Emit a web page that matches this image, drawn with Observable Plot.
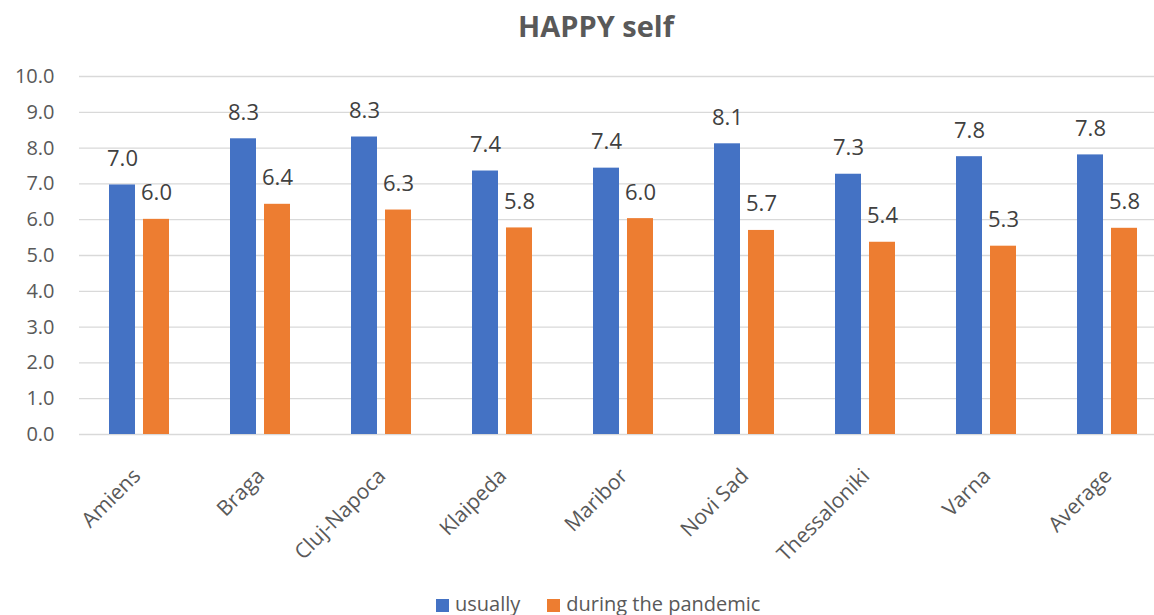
<!DOCTYPE html>
<html><head><meta charset="utf-8">
<script src="https://cdn.jsdelivr.net/npm/d3@7"></script>
<script src="https://cdn.jsdelivr.net/npm/@observablehq/plot@0.6"></script>
<style>
body{margin:0;background:#fff;font-family:"Open Sans",sans-serif;color:#595959;width:1154px;height:615px;overflow:hidden;position:relative;}
#title{position:absolute;top:0;left:396px;width:400px;height:52px;line-height:52px;text-align:center;font-weight:bold;font-size:29px;color:#595959;}
#chart{position:absolute;top:56px;left:0;}
#legend{position:absolute;top:591px;left:436px;white-space:nowrap;font-size:20px;line-height:26px;color:#595959;}
#legend span.sw{display:inline-block;width:13px;height:13px;margin-right:6px;vertical-align:-1px;}
#legend span.it{margin-right:27px;}
</style></head>
<body>
<div id="title">HAPPY self</div>
<div id="chart"></div>
<div id="legend"></div>
<script>
const cities = ["Amiens","Braga","Cluj-Napoca","Klaipeda","Maribor","Novi Sad","Thessaloniki","Varna","Average"];
const seriesNames = ["usually","during the pandemic"];
const usually = [6.97, 8.26, 8.31, 7.36, 7.44, 8.12, 7.27, 7.76, 7.81];
const pandemic = [6.01, 6.43, 6.27, 5.77, 6.03, 5.70, 5.37, 5.26, 5.76];
const colors = ["#4472C4","#ED7D31"];
const yTicks = [0,1,2,3,4,5,6,7,8,9,10];

const data = [];
cities.forEach((c,i)=>{
  data.push({city:c, series:seriesNames[0], value:usually[i]});
  data.push({city:c, series:seriesNames[1], value:pandemic[i]});
});

const chart = Plot.plot({
  width:1168, height:530,
  marginLeft:78, marginRight:0, marginTop:20, marginBottom:152,
  style:{fontFamily:"Open Sans, sans-serif", fontSize:"20px", color:"#595959", background:"#fff", overflow:"visible", maxWidth:"none"},
  fx:{domain:cities, padding:0, label:null, tickSize:0, tickPadding:38, tickRotate:-45},
  x:{domain:seriesNames, paddingInner:0.2286, paddingOuter:0.843, axis:null},
  y:{domain:[0,10], ticks:yTicks, tickFormat:d=>d.toFixed(1), tickSize:0, tickPadding:25, label:null},
  color:{domain:seriesNames, range:colors},
  marks:[
    Plot.ruleY(yTicks,{stroke:"#d9d9d9", strokeWidth:1.3}),
    Plot.barY(data,{fx:"city", x:"series", y:"value", fill:"series"}),
    Plot.text(data,{fx:"city", x:"series", y:"value", text:d=>d.value.toFixed(1), dy:-26, fill:"#404040", fontSize:22})
  ]
});
chart.style.maxWidth = "none";
chart.style.width = "1168px";
chart.style.height = "530px";
// category labels: slightly larger, nudged slightly left
const cityTexts = Array.from(chart.querySelectorAll("text")).filter(t=>cities.includes(t.textContent));
cityTexts.forEach(t=>{ t.style.fontSize = "21px"; });
if (cityTexts.length) {
  const g = cityTexts[0].parentNode;
  g.setAttribute("transform", (g.getAttribute("transform")||"") + " translate(-3,0)");
}
document.getElementById("chart").appendChild(chart);

const lg = document.getElementById("legend");
seriesNames.forEach((s,i)=>{
  const it = document.createElement("span"); it.className="it";
  const sw = document.createElement("span"); sw.className="sw"; sw.style.background=colors[i];
  it.appendChild(sw); it.appendChild(document.createTextNode(s));
  lg.appendChild(it);
});
</script>
</body></html>
